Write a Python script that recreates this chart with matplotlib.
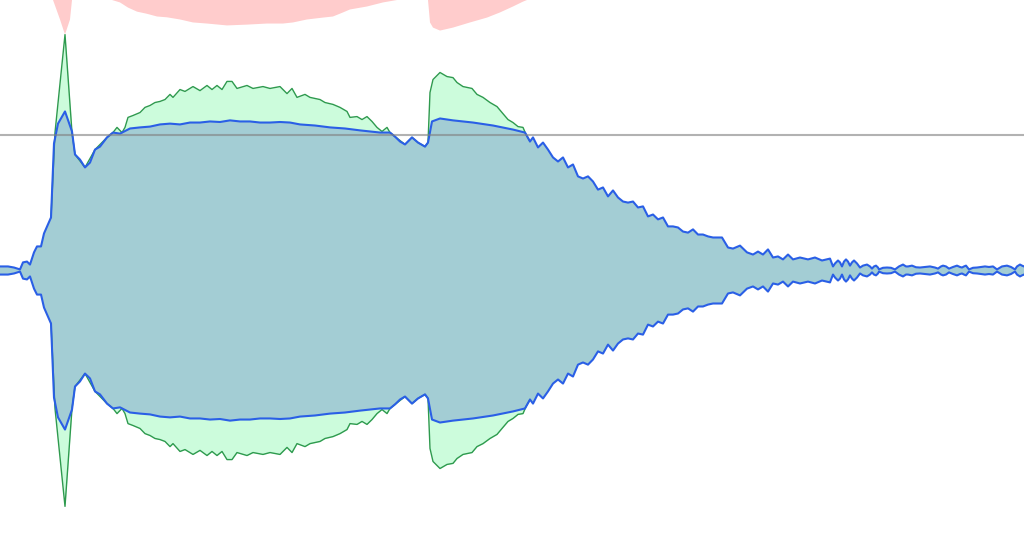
import numpy as np
import matplotlib
matplotlib.use("Agg")
import matplotlib.pyplot as plt

# envelope of the processed signal (blue), amplitude 0..1
blue_x = [0, 8, 14, 20, 23, 27, 30, 34, 37, 41, 44, 51, 54, 58, 65, 72, 75, 80, 85, 90,
          95, 100, 107, 113, 120, 130, 140, 150, 160, 170, 180, 190, 200, 210, 220, 230, 240, 250, 260, 270,
          280, 290, 300, 315, 330, 345, 360, 370, 380, 390, 395,
          400, 405, 412, 418, 425, 428, 432, 440, 453, 473, 493, 513, 525, 530, 533, 538, 543, 548, 553, 558,
          563, 568, 573, 578, 583, 588, 593, 598, 603, 608, 613, 618, 623, 628, 633, 638, 643, 648, 653, 658,
          663, 668, 673, 678, 683, 688, 693, 698, 703, 708, 713, 722, 728, 733, 740, 747, 753, 758, 763, 768,
          773, 778, 783, 788, 793, 800, 808, 815, 822, 830, 833, 835, 838, 840, 842, 844, 846, 848, 850, 852,
          854, 857, 860, 863, 867, 870, 872, 874, 876, 878, 879, 883, 887, 891, 895, 899, 903, 906, 908, 912,
          916, 920, 930, 935, 938, 941, 943, 946, 949, 953, 957, 960, 962, 964, 966, 969, 973, 977, 985, 989,
          993, 997, 1002, 1007, 1011, 1015, 1017, 1020, 1022, 1024]
blue_amp = [0.015, 0.015, 0.011, 0.004, 0.030, 0.033, 0.022, 0.067, 0.089, 0.089, 0.137, 0.196, 0.470, 0.543, 0.588, 0.514, 0.429, 0.410, 0.381, 0.399,
            0.447, 0.458, 0.492, 0.510, 0.506, 0.525, 0.529, 0.532, 0.540, 0.543, 0.540, 0.547, 0.547, 0.551, 0.549, 0.555, 0.551, 0.551, 0.547, 0.547,
            0.549, 0.547, 0.540, 0.536, 0.529, 0.525, 0.518, 0.514, 0.510, 0.510, 0.495,
            0.477, 0.466, 0.492, 0.473, 0.458, 0.473, 0.551, 0.562, 0.555, 0.547, 0.536, 0.521, 0.510, 0.477, 0.492, 0.455, 0.473, 0.447, 0.418, 0.403,
            0.418, 0.381, 0.392, 0.348, 0.340, 0.348, 0.329, 0.299, 0.307, 0.274, 0.296, 0.270, 0.255, 0.251, 0.255, 0.233, 0.237, 0.200, 0.207, 0.189,
            0.196, 0.163, 0.163, 0.159, 0.144, 0.140, 0.152, 0.133, 0.133, 0.126, 0.122, 0.122, 0.085, 0.081, 0.092, 0.067, 0.059, 0.070, 0.059, 0.078,
            0.048, 0.052, 0.041, 0.059, 0.041, 0.048, 0.041, 0.048, 0.037, 0.044, 0.015, 0.026, 0.037, 0.030, 0.015, 0.033, 0.041, 0.033, 0.018, 0.030,
            0.037, 0.026, 0.011, 0.018, 0.022, 0.015, 0.007, 0.015, 0.018, 0.011, 0.004, 0.010, 0.011, 0.010, 0.004, 0.015, 0.022, 0.015, 0.015, 0.018,
            0.012, 0.011, 0.015, 0.011, 0.007, 0.015, 0.018, 0.015, 0.007, 0.013, 0.018, 0.013, 0.011, 0.015, 0.018, 0.004, 0.010, 0.011, 0.015, 0.013,
            0.015, 0.004, 0.015, 0.018, 0.013, 0.004, 0.015, 0.022, 0.018, 0.015]

# envelope of the original signal (green)
green_x = [51, 55, 65, 72, 75, 85, 95, 107, 113, 117, 122, 125, 128, 133, 140, 145, 150, 155, 160, 165,
           170, 173, 180, 185, 193, 200, 207, 212, 217, 222, 227, 232, 237, 247, 253, 263, 270, 280, 287, 292,
           297, 305, 310, 320, 325, 333, 340, 347, 350, 357, 362, 367, 372, 377, 382, 387, 390, 395, 405, 412,
           418, 425, 428, 430, 433, 440, 447, 453, 457, 463, 472, 477, 483, 490, 497, 502, 508, 513, 518, 523,
           526, 530]
green_amp = [0.196, 0.510, 0.872, 0.510, 0.429, 0.381, 0.447, 0.492, 0.510, 0.529, 0.510, 0.529, 0.566, 0.573, 0.584, 0.603, 0.610, 0.621, 0.625, 0.632,
             0.651, 0.640, 0.669, 0.662, 0.680, 0.665, 0.684, 0.669, 0.684, 0.669, 0.699, 0.699, 0.673, 0.684, 0.673, 0.680, 0.673, 0.680, 0.654, 0.673,
             0.640, 0.651, 0.640, 0.632, 0.621, 0.614, 0.603, 0.588, 0.566, 0.569, 0.558, 0.569, 0.551, 0.529, 0.514, 0.529, 0.510, 0.495, 0.466, 0.492,
             0.473, 0.458, 0.473, 0.658, 0.706, 0.732, 0.717, 0.713, 0.695, 0.680, 0.673, 0.651, 0.640, 0.621, 0.606, 0.584, 0.558, 0.547, 0.532, 0.529,
             0.503, 0.477]

# lower edge of the red band at the top
pink_x = [0, 51, 53, 60, 65, 70, 72, 74, 110, 112, 120, 128, 137, 147, 157, 167, 180, 193, 207, 227,
          247, 267, 283, 293, 307, 323, 333, 343, 350, 367, 383, 397, 400, 426, 428, 430, 433, 440, 453, 470,
          487, 500, 513, 523, 527, 530, 1024]
pink_low = [1.02, 1.02, 1.0, 0.928, 0.872, 0.928, 1.0, 1.02, 1.02, 1.0, 0.991, 0.972, 0.957, 0.949, 0.939, 0.936, 0.928, 0.917, 0.913, 0.906,
            0.909, 0.913, 0.913, 0.917, 0.928, 0.935, 0.939, 0.954, 0.965, 0.976, 0.991, 1.0, 1.02, 1.02, 1.0, 0.917, 0.898, 0.887, 0.898, 0.917,
            0.935, 0.954, 0.976, 0.994, 1.0, 1.02, 1.02]

threshold = 0.5

bx = np.array(blue_x)
ba = np.array(blue_amp)
gx = np.array(green_x)
ga = np.array(green_amp)

fig = plt.figure(figsize=(10.24, 5.41), dpi=100)
ax = fig.add_axes([0, 0, 1, 1])

# red band
ax.fill_between(pink_x, pink_low, 1.1, color="#ffcccc", lw=0)

# original (green) under the processed one
ax.fill_between(gx, -ga, ga, color="#ccfcdc", lw=0)
ax.plot(gx, ga, color="#2e9a4e", lw=1.0)
ax.plot(gx, -ga, color="#2e9a4e", lw=1.0)

# processed (blue)
ax.fill_between(bx, -ba, ba, color="#a3cdd4", lw=0)
ax.plot(bx, ba, color="#2a5fe6", lw=1.5)
ax.plot(bx, -ba, color="#2a5fe6", lw=1.5)

ax.axhline(threshold, color="gray", lw=1.5, alpha=0.6)

ax.set_xlim(0, 1024)
ax.set_ylim(-1, 1)
ax.axis("off")

fig.savefig("out.png", dpi=100)
